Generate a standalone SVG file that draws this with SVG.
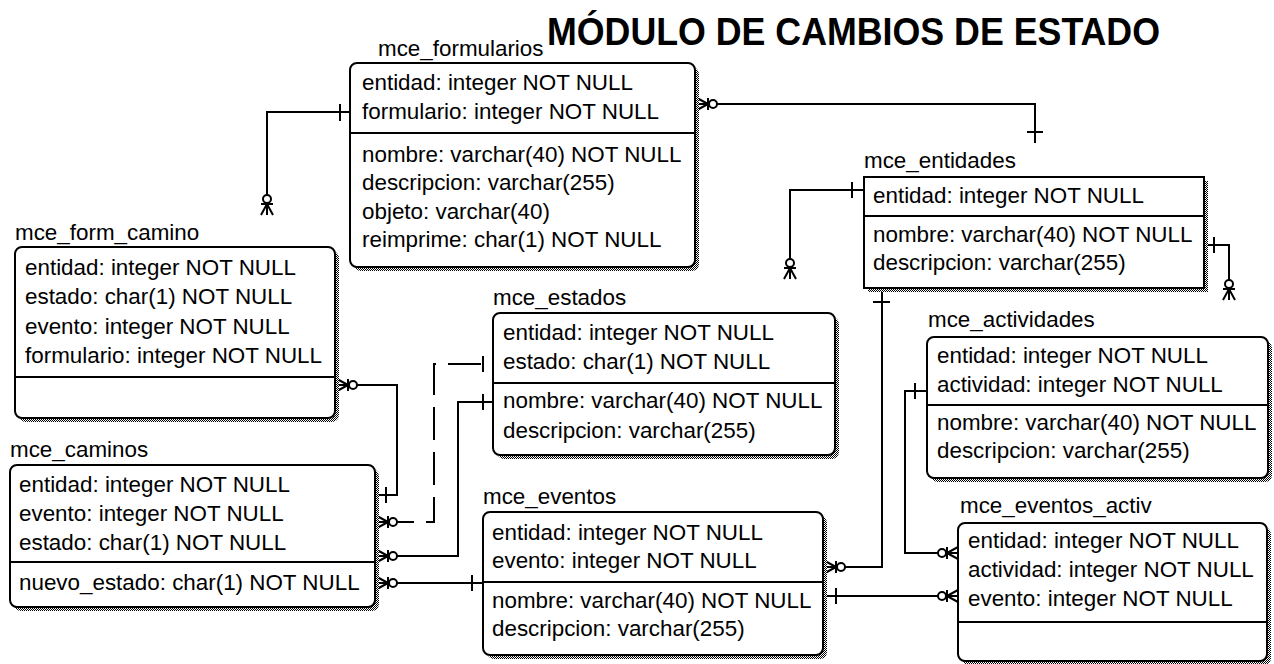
<svg xmlns="http://www.w3.org/2000/svg" width="1274" height="664" viewBox="0 0 1274 664">
<style>
.t{font-family:"Liberation Sans",Arial,sans-serif;font-size:22.4px;fill:#000}
.h{font-family:"Liberation Sans",Arial,sans-serif;font-size:39px;font-weight:bold;fill:#000}
.box{fill:#fff;stroke:#000;stroke-width:2}
.sh{fill:url(#dither)}
.dv{stroke:#000;stroke-width:2;fill:none}
.c{stroke:#000;stroke-width:2;fill:none}
.dash{stroke-dasharray:33 12;stroke-dashoffset:14}
</style>
<defs>
<pattern id="dither" width="2" height="2" patternUnits="userSpaceOnUse">
<rect width="2" height="2" fill="#fff"/>
<rect x="0" y="0" width="1" height="1" fill="#000"/>
<rect x="1" y="1" width="1" height="1" fill="#000"/>
</pattern>
<g id="crow">
<path d="M0,-6 L11,0 M0,0 H11 M0,6 L11,0 M11,-6 V6" stroke="#000" stroke-width="2" fill="none"/>
<circle cx="16" cy="0" r="4" fill="#fff" stroke="#000" stroke-width="2"/>
</g>
</defs>
<rect width="1274" height="664" fill="#fff"/>
<text class="h" x="547" y="45" textLength="613" lengthAdjust="spacingAndGlyphs">MÓDULO DE CAMBIOS DE ESTADO</text>

<g id="connectors">
<path class="c" d="M350,112 H267 V195 M340,104 V121"/>
<use href="#crow" transform="translate(267,215) rotate(-90)"/>
<path class="c" d="M699,104 H1035 V143 M1027,132 H1043"/>
<use href="#crow" transform="translate(697,104)"/>
<path class="c" d="M337,385 H397 V495 H377 M386,487 V503"/>
<use href="#crow" transform="translate(337,385)"/>
<path class="c dash" d="M395,522 H434 V364 H493"/>
<path class="c" d="M483,356 V372"/>
<use href="#crow" transform="translate(377,522)"/>
<path class="c" d="M377,556 H458 V402 H493 M483,394 V410"/>
<use href="#crow" transform="translate(377,556)"/>
<path class="c" d="M377,583 H483 M472,575 V591"/>
<use href="#crow" transform="translate(377,583)"/>
<path class="c" d="M825,567 H882 V290 M873,302 H890"/>
<use href="#crow" transform="translate(825,567)"/>
<path class="c" d="M825,596 H958 M836,588 V604"/>
<use href="#crow" transform="translate(958,596) rotate(180)"/>
<path class="c" d="M927,391 H905 V553 H958 M915,383 V399"/>
<use href="#crow" transform="translate(958,553) rotate(180)"/>
<path class="c" d="M864,190 H790 V262 M852,182 V198"/>
<use href="#crow" transform="translate(790,279) rotate(-90)"/>
<path class="c" d="M1206,245 H1229 V282 M1214,237 V253"/>
<use href="#crow" transform="translate(1229,300) rotate(-90)"/>
</g>

<g id="mce_formularios">
<text class="t" x="378" y="56">mce_formularios</text>
<rect class="sh" x="354" y="67" width="345" height="204" rx="7"/>
<rect class="box" x="350" y="63" width="345" height="204" rx="7"/>
<line class="dv" x1="350" y1="133" x2="695" y2="133"/>
<text class="t" x="362" y="90">entidad: integer NOT NULL</text>
<text class="t" x="362" y="119">formulario: integer NOT NULL</text>
<text class="t" x="362" y="162">nombre: varchar(40) NOT NULL</text>
<text class="t" x="362" y="190">descripcion: varchar(255)</text>
<text class="t" x="362" y="219">objeto: varchar(40)</text>
<text class="t" x="362" y="247">reimprime: char(1) NOT NULL</text>
</g>

<g id="mce_form_camino">
<text class="t" x="15" y="240">mce_form_camino</text>
<rect class="sh" x="19" y="251" width="320" height="171" rx="7"/>
<rect class="box" x="15" y="247" width="320" height="171" rx="7"/>
<line class="dv" x1="15" y1="377" x2="335" y2="377"/>
<text class="t" x="25" y="275">entidad: integer NOT NULL</text>
<text class="t" x="25" y="304">estado: char(1) NOT NULL</text>
<text class="t" x="25" y="334">evento: integer NOT NULL</text>
<text class="t" x="25" y="363">formulario: integer NOT NULL</text>
</g>

<g id="mce_entidades">
<text class="t" x="864" y="168">mce_entidades</text>
<rect class="sh" x="868" y="181" width="340" height="111"/>
<rect class="box" x="864" y="177" width="340" height="111"/>
<line class="dv" x1="864" y1="216" x2="1204" y2="216"/>
<text class="t" x="873" y="203">entidad: integer NOT NULL</text>
<text class="t" x="873" y="242">nombre: varchar(40) NOT NULL</text>
<text class="t" x="873" y="270">descripcion: varchar(255)</text>
</g>

<g id="mce_estados">
<text class="t" x="493" y="305">mce_estados</text>
<rect class="sh" x="497" y="317" width="342" height="142" rx="7"/>
<rect class="box" x="493" y="313" width="342" height="142" rx="7"/>
<line class="dv" x1="493" y1="383" x2="835" y2="383"/>
<text class="t" x="503" y="340">entidad: integer NOT NULL</text>
<text class="t" x="503" y="369">estado: char(1) NOT NULL</text>
<text class="t" x="503" y="408">nombre: varchar(40) NOT NULL</text>
<text class="t" x="503" y="438">descripcion: varchar(255)</text>
</g>

<g id="mce_eventos">
<text class="t" x="483" y="504">mce_eventos</text>
<rect class="sh" x="487" y="516" width="340" height="143" rx="7"/>
<rect class="box" x="483" y="512" width="340" height="143" rx="7"/>
<line class="dv" x1="483" y1="582" x2="823" y2="582"/>
<text class="t" x="492" y="540">entidad: integer NOT NULL</text>
<text class="t" x="492" y="568">evento: integer NOT NULL</text>
<text class="t" x="492" y="608">nombre: varchar(40) NOT NULL</text>
<text class="t" x="492" y="636">descripcion: varchar(255)</text>
</g>

<g id="mce_caminos">
<text class="t" x="10" y="457">mce_caminos</text>
<rect class="sh" x="14" y="469" width="365" height="142" rx="7"/>
<rect class="box" x="10" y="465" width="365" height="142" rx="7"/>
<line class="dv" x1="10" y1="562" x2="375" y2="562"/>
<text class="t" x="19" y="492">entidad: integer NOT NULL</text>
<text class="t" x="19" y="521">evento: integer NOT NULL</text>
<text class="t" x="19" y="550">estado: char(1) NOT NULL</text>
<text class="t" x="19" y="590">nuevo_estado: char(1) NOT NULL</text>
</g>

<g id="mce_actividades">
<text class="t" x="928" y="327">mce_actividades</text>
<rect class="sh" x="931" y="341" width="341" height="141" rx="7"/>
<rect class="box" x="927" y="337" width="341" height="141" rx="7"/>
<line class="dv" x1="927" y1="405" x2="1268" y2="405"/>
<text class="t" x="937" y="363">entidad: integer NOT NULL</text>
<text class="t" x="937" y="392">actividad: integer NOT NULL</text>
<text class="t" x="937" y="430">nombre: varchar(40) NOT NULL</text>
<text class="t" x="937" y="458">descripcion: varchar(255)</text>
</g>

<g id="mce_eventos_activ">
<text class="t" x="960" y="513">mce_eventos_activ</text>
<rect class="sh" x="962" y="527" width="309" height="138" rx="7"/>
<rect class="box" x="958" y="523" width="309" height="138" rx="7"/>
<line class="dv" x1="958" y1="622" x2="1267" y2="622"/>
<text class="t" x="968" y="548">entidad: integer NOT NULL</text>
<text class="t" x="968" y="577">actividad: integer NOT NULL</text>
<text class="t" x="968" y="606">evento: integer NOT NULL</text>
</g>
</svg>
